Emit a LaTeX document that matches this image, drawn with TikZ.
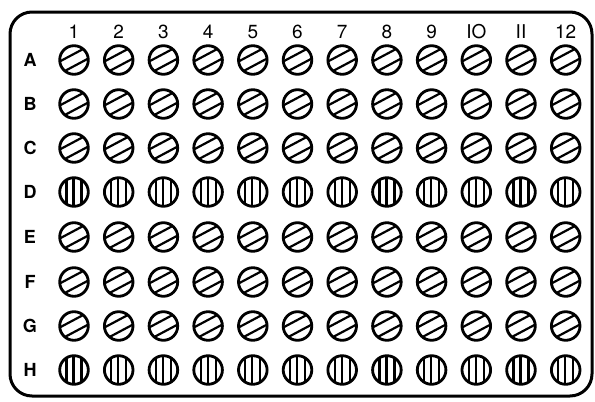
\documentclass[tikz,border=0pt]{standalone}
\usepackage{fontspec}
\setsansfont{TeX Gyre Heros}
\begin{document}
\begin{tikzpicture}[x=1pt,y=-1pt,
  frame/.style={line width=3pt,rounded corners=22pt},
  well/.style={line width=2.8pt},
  hatch/.style={line width=2.2pt},
  collab/.style={font=\sffamily\fontsize{19}{19}\selectfont},
  rowlab/.style={font=\sffamily\bfseries\fontsize{18}{18}\selectfont},
  diag/.pic={
    \draw[well] (0,0) circle (14.3);
    \begin{scope}[rotate=28]
      \draw[hatch] (-13.3,5.4) -- (13.3,5.4);
      \draw[hatch] (-13.3,-5.4) -- (13.3,-5.4);
    \end{scope}},
  vert/.pic={
    \draw[well] (0,0) circle (14.3);
    \draw[hatch] (-7.5,-12) -- (-7.5,12);
    \draw[hatch] (-0.5,-14.2) -- (-0.5,14.2);
    \draw[hatch] (7.5,-12) -- (7.5,12);}
]
\useasboundingbox (0,0) rectangle (595,402);
\draw[frame] (10,12) rectangle (592,396);
\foreach \c [count=\i from 0] in {1,...,12}{
  \node[collab] (col\c) at ({74+\i*44.7},32) {\ifnum\c=10 IO\else\ifnum\c=11 II\else\c\fi\fi};
}
\foreach \r/\y/\t in {A/60/diag,B/104/diag,C/148/diag,D/192/vert,E/237/diag,F/282/diag,G/326/diag,H/370/vert}{
  \node[rowlab] (row\r) at (30,\y) {\r};
  \foreach \i in {0,...,11}{
    \pic at ({74+\i*44.7},\y) {\t};
  }
}
\end{tikzpicture}
\end{document}
